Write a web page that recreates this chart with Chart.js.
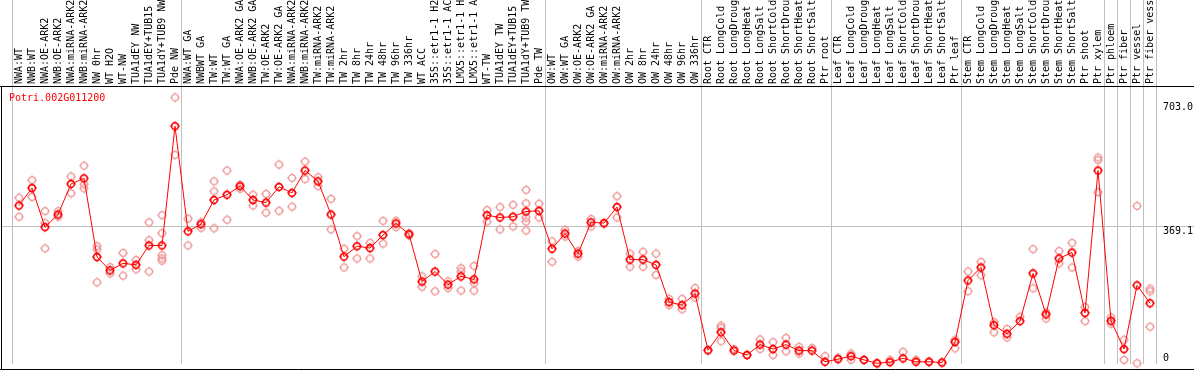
<!DOCTYPE html>
<html>
<head>
<meta charset="utf-8">
<script src="https://cdn.jsdelivr.net/npm/chart.js@4.4.1/dist/chart.umd.min.js"></script>
<style>
  html, body { margin: 0; padding: 0; background: #fff; }
  canvas { display: block; }
</style>
</head>
<body>
<canvas id="chart-expr" width="1194" height="370"></canvas>
<script>
// ============================================================
// Expression profile — Potri.002G011200
// ============================================================

const GENE_ID = 'Potri.002G011200';

const categories = [
  'NWA:WT', 'NWB:WT', 'NWA:OE-ARK2', 'NWB:OE-ARK2', 'NWA:miRNA-ARK2', 'NWB:miRNA-ARK2',
  'NW 0hr', 'WT H2O', 'WT-NW', 'TUA1dEY NW', 'TUA1dEY+TUB15', 'TUA1dY+TUB9 NW', 'Pde NW',
  'NWA:WT GA', 'NWBWT GA', 'TW:WT', 'TW:WT GA', 'NWA:OE-ARK2 GA', 'NWB:OE-ARK2 GA',
  'TW:OE-ARK2', 'TW:OE-ARK2 GA', 'NWA:miRNA-ARK2', 'NWB:miRNA-ARK2', 'TW:miRNA-ARK2',
  'TW:miRNA-ARK2', 'TW 2hr', 'TW 8hr', 'TW 24hr', 'TW 48hr', 'TW 96hr', 'TW 336hr',
  'WT ACC', '35S::etr1-1 H2O', '35S::etr1-1 ACC', 'LMX5::etr1-1 H2O', 'LMX5::etr1-1 ACC',
  'WT-TW', 'TUA1dEY TW', 'TUA1dEY+TUB15', 'TUA1dY+TUB9 TW', 'Pde TW',
  'OW:WT', 'OW:WT GA', 'OW:OE-ARK2', 'OW:OE-ARK2 GA', 'OW:miRNA-ARK2', 'OW:miRNA-ARK2',
  'OW 2hr', 'OW 8hr', 'OW 24hr', 'OW 48hr', 'OW 96hr', 'OW 336hr',
  'Root CTR', 'Root LongCold', 'Root LongDrought', 'Root LongHeat', 'Root LongSalt',
  'Root ShortCold', 'Root ShortDrought', 'Root ShortHeat', 'Root ShortSalt', 'Ptr root',
  'Leaf CTR', 'Leaf LongCold', 'Leaf LongDrought', 'Leaf LongHeat', 'Leaf LongSalt',
  'Leaf ShortCold', 'Leaf ShortDrought', 'Leaf ShortHeat', 'Leaf ShortSalt', 'Ptr leaf',
  'Stem CTR', 'Stem LongCold', 'Stem LongDrought', 'Stem LongHeat', 'Stem LongSalt',
  'Stem ShortCold', 'Stem ShortDrought', 'Stem ShortHeat', 'Stem ShortSalt', 'Ptr shoot',
  'Ptr xylem', 'Ptr phloem', 'Ptr fiber', 'Ptr vessel', 'Ptr fiber vessel',
];

// mean expression per sample
const means = [
  423, 470, 365, 399, 481, 496, 285, 249, 268, 264, 316, 316, 636,
  354, 373, 438, 452, 475, 438, 431, 473, 457, 517, 488, 399, 286, 314, 309, 344, 375, 346,
  219, 246, 211, 233, 225, 397, 391, 393, 407, 409,
  307, 348, 294, 378, 376, 419, 278, 278, 264, 164, 156, 187,
  35, 83, 34, 22, 50, 38, 50, 34, 34, 4,
  11, 19, 9, 0, 3, 13, 4, 4, 2, 57,
  222, 257, 102, 79, 113, 241, 131, 281, 297, 135, 517,
  114, 38, 209, 161,
];

// individual replicates per sample
const replicates = [
  [444, 393], [491, 446], [408, 376, 308], [408, 393], [501, 456], [530, 469, 480],
  [314, 305, 217], [258, 241], [296, 235], [277, 252], [378, 330, 246],
  [397, 349, 290, 281, 275], [713, 559],
  [388, 316], [378, 363], [488, 461, 362], [517, 385], [479, 468], [452, 423],
  [454, 404], [533, 409], [497, 420], [541, 494], [499, 475], [441, 359],
  [307, 257], [341, 281], [323, 281], [382, 321], [382, 365], [349, 343],
  [233, 205], [293, 193], [220, 202], [255, 246, 195], [261, 215, 195],
  [411, 380], [419, 359], [425, 367], [465, 429, 391, 380, 356], [428, 391],
  [327, 272], [358, 340], [286, 301], [387, 367], [374], [448, 391],
  [294, 259], [299, 259], [294, 237], [173, 156], [173, 145], [202, 176],
  [35], [101, 95, 59], [38], [22], [64, 38], [57, 22], [68, 32], [44, 26], [41], [19],
  [15], [26, 9], [9], [0], [9], [31], [9], [4], [2], [63, 40],
  [246, 193], [272, 236], [110, 83], [92, 69], [125], [306, 201], [136, 120],
  [301, 268], [323, 257], [151, 113], [552, 545, 459],
  [123, 106], [63, 9], [422, 0], [200, 193, 98],
];

// sample index after which a group separator is drawn (-1 = before first)
const groupEnds = [-1, 12, 40, 52, 62, 72, 83, 84, 85, 86, 87];

const yTicks = [0, 369.1, 703.0];

// ── Colours / fonts ───────────────────────────────────────

const COLORS = {
  mean:  '#ff0000',
  rep:   'rgb(240,150,150)',
  grid:  '#c0c0c0',
  frame: '#000000',
  text:  '#000000',
};
const MONO = "10px 'DejaVu Sans Mono', monospace";

// ── Marker (ring with four little ticks) ──────────────────

function makeMarker(color, lw) {
  const c = document.createElement('canvas');
  c.width = 12; c.height = 12;
  const g = c.getContext('2d');
  g.strokeStyle = color;
  g.lineWidth = lw;
  g.beginPath();
  g.arc(6, 6, 3.4, 0, Math.PI * 2);
  g.stroke();
  g.lineWidth = 1;
  g.beginPath();
  g.moveTo(6, 1); g.lineTo(6, 2.5);
  g.moveTo(6, 9.5); g.lineTo(6, 11);
  g.moveTo(1, 6); g.lineTo(2.5, 6);
  g.moveTo(9.5, 6); g.lineTo(11, 6);
  g.stroke();
  return c;
}

// ── Decorations drawn with the chart's own scales ─────────

const decorPlugin = {
  id: 'decor',
  beforeDatasetsDraw(chart) {
    const { ctx, scales: { x, y } } = chart;
    const W = chart.width;
    ctx.save();
    ctx.strokeStyle = COLORS.grid;
    ctx.lineWidth = 1;
    // horizontal mid gridline
    const gy = Math.round(y.getPixelForValue(yTicks[1])) + 0.5;
    ctx.beginPath();
    ctx.moveTo(1, gy); ctx.lineTo(W, gy);
    ctx.stroke();
    // group separators, full height through the label strip
    groupEnds.forEach(i => {
      const px = Math.round(x.getPixelForValue(i + 0.5) - 1) + 0.5;
      ctx.beginPath();
      ctx.moveTo(px, 0); ctx.lineTo(px, chart.chartArea.bottom);
      ctx.stroke();
    });
    // frame
    ctx.strokeStyle = COLORS.frame;
    ctx.beginPath();
    ctx.moveTo(0, 86.5); ctx.lineTo(W, 86.5);
    ctx.moveTo(0, 369.5); ctx.lineTo(W, 369.5);
    ctx.moveTo(1.5, 86); ctx.lineTo(1.5, 370);
    ctx.stroke();
    ctx.restore();
  },
  afterDraw(chart) {
    const { ctx, scales: { x, y } } = chart;
    ctx.save();
    ctx.font = MONO;
    ctx.fillStyle = COLORS.text;
    // sample labels, rotated, reading upward
    categories.forEach((lab, i) => {
      ctx.save();
      ctx.translate(x.getPixelForValue(i) + 0.5, 84);
      ctx.rotate(-Math.PI / 2);
      ctx.textAlign = 'left';
      ctx.textBaseline = 'middle';
      ctx.fillText(lab, 0, 0);
      ctx.restore();
    });
    // y tick labels on the right
    ctx.textAlign = 'left';
    ctx.textBaseline = 'alphabetic';
    yTicks.forEach(v => {
      const py = y.getPixelForValue(v);
      const txt = v === 0 ? '0' : v.toFixed(1);
      ctx.fillText(txt, 1163, v === 0 ? py - 2.5 : py + 8.5);
    });
    // gene id
    ctx.fillStyle = COLORS.mean;
    ctx.fillText(GENE_ID, 9, 100.5);
    ctx.restore();
  },
};

// ── Chart ─────────────────────────────────────────────────

const meanPts = means.map((v, i) => ({ x: i, y: v }));
const repPts  = [];
replicates.forEach((arr, i) => arr.forEach(v => repPts.push({ x: i, y: v })));

new Chart(document.getElementById('chart-expr'), {
  type: 'line',
  data: {
    datasets: [
      {
        label:       'mean',
        data:        meanPts,
        borderColor: COLORS.mean,
        borderWidth: 1,
        tension:     0,
        pointStyle:  makeMarker(COLORS.mean, 1.6),
        pointRadius: 5,
        clip:        false,
        order:       0,
      },
      {
        label:       'replicates',
        data:        repPts,
        showLine:    false,
        pointStyle:  makeMarker(COLORS.rep, 1.3),
        pointRadius: 5,
        clip:        false,
        order:       1,
      },
    ],
  },
  options: {
    responsive: false,
    devicePixelRatio: 1,
    animation: false,
    layout: { padding: { left: 12.5, right: 37.5, top: 87, bottom: 1 } },
    plugins: { legend: { display: false }, tooltip: { enabled: false } },
    scales: {
      x: { type: 'linear', min: -0.5, max: 87.5, display: false },
      y: { type: 'linear', min: -2, max: 741, display: false },
    },
  },
  plugins: [decorPlugin],
});
</script>
</body>
</html>
